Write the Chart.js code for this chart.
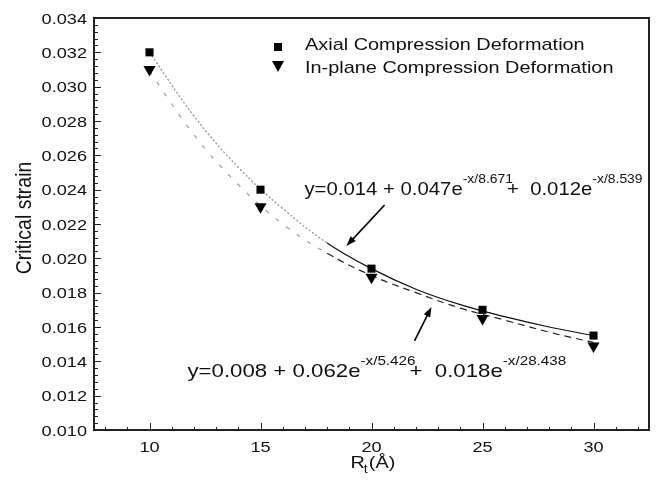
<!DOCTYPE html>
<html>
<head>
<meta charset="utf-8">
<script src="https://cdn.jsdelivr.net/npm/chart.js@4.4.0/dist/chart.umd.min.js"></script>
<style>
  html, body { margin: 0; padding: 0; background: #fff; }
  #wrap { width: 657px; height: 492px; }
</style>
</head>
<body>
<div id="wrap"><canvas id="chart" width="657" height="492"></canvas></div>
<script>
// measured points
const radii = [10, 15, 20, 25, 30];
const axialStrain = [0.0320, 0.0240, 0.0194, 0.0170, 0.0155];
const inplaneStrain = [0.0310, 0.0230, 0.0189, 0.0165, 0.0149];

// fitted curves
const fitX = [10, 12, 14, 16, 18, 20, 22, 24, 26, 28, 30];
const axialFit = [0.0320, 0.0283, 0.0253, 0.0229, 0.0209, 0.0194, 0.0182, 0.0173, 0.0166, 0.0160, 0.0155];
const inplaneFit = [0.0309, 0.0272, 0.0243, 0.0220, 0.0203, 0.0190, 0.0180, 0.0171, 0.0164, 0.0157, 0.0151];

// axis ticks
const xTicks = [10, 15, 20, 25, 30];
const yTicks = [0.010, 0.012, 0.014, 0.016, 0.018, 0.020, 0.022, 0.024, 0.026, 0.028, 0.030, 0.032, 0.034];

const legendLabels = ['Axial Compression Deformation', 'In-plane Compression Deformation'];
const eqAxial = [['y=0.014 + 0.047e'], ['-x/8.671', 'sup'], ['+  0.012e', 'back'], ['-x/8.539', 'sup']];
const eqInplane = [['y=0.008 + 0.062e'], ['-x/5.426', 'sup'], ['+  0.018e', 'back'], ['-x/28.438', 'sup']];

const FONT = '"Liberation Sans", Arial, Helvetica, sans-serif';
const SX = 1.17; // the original text is a bit wide

function toXY(xs, ys) {
    let out = [];
    for (let i = 0; i < xs.length; i++) {
        out.push({x: xs[i], y: ys[i]});
    }
    return out;
}

function wideText(ctx, str, x, y, size, align, baseline, sx) {
    sx = sx || SX;
    ctx.save();
    ctx.font = size + 'px ' + FONT;
    ctx.textAlign = align || 'left';
    ctx.textBaseline = baseline || 'alphabetic';
    ctx.translate(x, y);
    ctx.scale(sx, 1);
    ctx.fillText(str, 0, 0);
    let w = ctx.measureText(str).width * sx;
    ctx.restore();
    return w;
}

function drawEquation(ctx, parts, x, y, sx) {
    let cx = x;
    for (let p of parts) {
        if (p[1] === 'sup') {
            cx += wideText(ctx, p[0], cx, y - 12, 13, 'left', 'alphabetic', sx);
        } else {
            if (p[1] === 'back') cx -= 6;
            cx += wideText(ctx, p[0], cx, y, 19, 'left', 'alphabetic', sx);
        }
    }
}

function drawArrow(ctx, x0, y0, x1, y1) {
    let ang = Math.atan2(y1 - y0, x1 - x0);
    ctx.save();
    ctx.strokeStyle = '#000';
    ctx.fillStyle = '#000';
    ctx.lineWidth = 1.6;
    ctx.beginPath();
    ctx.moveTo(x0, y0);
    ctx.lineTo(x1 - 6 * Math.cos(ang), y1 - 6 * Math.sin(ang));
    ctx.stroke();
    ctx.beginPath();
    ctx.moveTo(x1, y1);
    ctx.lineTo(x1 - 10 * Math.cos(ang) + 3.5 * Math.sin(ang), y1 - 10 * Math.sin(ang) - 3.5 * Math.cos(ang));
    ctx.lineTo(x1 - 10 * Math.cos(ang) - 3.5 * Math.sin(ang), y1 - 10 * Math.sin(ang) + 3.5 * Math.cos(ang));
    ctx.closePath();
    ctx.fill();
    ctx.restore();
}

// frame, inward ticks, labels, legend, equations
const decorations = {
    id: 'decorations',
    afterDraw: function(chart) {
        let ctx = chart.ctx;
        let a = chart.chartArea;
        let xs = chart.scales.x;
        let ys = chart.scales.y;
        ctx.save();
        ctx.fillStyle = '#111';
        ctx.strokeStyle = '#222';

        // minor + major ticks
        ctx.lineWidth = 1;
        ctx.beginPath();
        for (let v = Math.ceil(xs.min); v <= xs.max; v++) {
            let px = Math.round(xs.getPixelForValue(v)) + 0.5;
            let len = (v % 5 === 0) ? 7 : 3;
            ctx.moveTo(px, a.bottom);
            ctx.lineTo(px, a.bottom - len);
        }
        for (let k = 0; k <= 60; k++) {
            let v = ys.min + k * 0.0004;
            let py = Math.round(ys.getPixelForValue(v)) + 0.5;
            let len = (k % 5 === 0) ? 7 : 4;
            ctx.moveTo(a.left, py);
            ctx.lineTo(a.left + len, py);
        }
        ctx.stroke();

        // frame
        ctx.lineWidth = 2;
        ctx.strokeRect(a.left, a.top, a.right - a.left, a.bottom - a.top);

        // tick labels
        xs.ticks.forEach(t => {
            wideText(ctx, String(t.value), xs.getPixelForValue(t.value), a.bottom + 22, 15.5, 'center');
        });
        ys.ticks.forEach(t => {
            wideText(ctx, t.value.toFixed(3), a.left - 7, ys.getPixelForValue(t.value) + 5.5, 15.5, 'right');
        });

        // axis titles
        let mx = (a.left + a.right) / 2 - 21;
        let rw = wideText(ctx, 'R', mx, a.bottom + 38, 17);
        wideText(ctx, 't', mx + rw - 1, a.bottom + 43, 12);
        wideText(ctx, '(\u00c5)', mx + rw + 4, a.bottom + 38, 17);

        ctx.save();
        ctx.translate(31, (a.top + a.bottom) / 2 - 6);
        ctx.rotate(-Math.PI / 2);
        ctx.font = '19.5px ' + FONT;
        ctx.textAlign = 'center';
        ctx.scale(1, SX);
        ctx.fillText('Critical strain', 0, 0);
        ctx.restore();

        // legend
        let lx = a.left + 184;
        ctx.fillStyle = '#000';
        ctx.fillRect(lx - 4, a.top + 25, 8, 8);
        ctx.beginPath();
        ctx.moveTo(lx - 6, a.top + 43);
        ctx.lineTo(lx + 6, a.top + 43);
        ctx.lineTo(lx, a.top + 54);
        ctx.closePath();
        ctx.fill();
        ctx.fillStyle = '#111';
        wideText(ctx, legendLabels[0], a.left + 211, a.top + 32, 17);
        wideText(ctx, legendLabels[1], a.left + 211, a.top + 55, 17);

        // equations and arrows
        drawEquation(ctx, eqAxial, xs.getPixelForValue(16.98), ys.getPixelForValue(0.02369), 1.07);
        drawEquation(ctx, eqInplane, xs.getPixelForValue(11.71), ys.getPixelForValue(0.01309), SX);
        drawArrow(ctx, xs.getPixelForValue(20.59), ys.getPixelForValue(0.02311),
                  xs.getPixelForValue(18.87), ys.getPixelForValue(0.02072));
        drawArrow(ctx, xs.getPixelForValue(21.94), ys.getPixelForValue(0.01519),
                  xs.getPixelForValue(22.70), ys.getPixelForValue(0.01717));
        ctx.restore();
    }
};

Chart.defaults.font.family = FONT;

let ctx = document.getElementById('chart').getContext('2d');
let chart = new Chart(ctx, {
    type: 'scatter',
    data: {
        datasets: [
            {
                label: legendLabels[0],
                data: toXY(radii, axialStrain),
                pointStyle: 'rect',
                pointRadius: 5.7,
                backgroundColor: '#000',
                borderColor: '#000',
                borderWidth: 0,
                showLine: false
            },
            {
                label: legendLabels[1],
                data: toXY(radii, inplaneStrain),
                pointStyle: 'triangle',
                rotation: 180,
                pointRadius: 7,
                backgroundColor: '#000',
                borderColor: '#000',
                borderWidth: 0,
                showLine: false
            },
            {
                label: 'axial fit',
                data: toXY(fitX, axialFit),
                showLine: true,
                pointRadius: 0,
                borderWidth: 1.2,
                borderColor: '#111',
                tension: 0.4,
                segment: {
                    borderColor: c => c.p0.parsed.x < 18 ? '#8c8c8c' : '#111',
                    borderDash: c => c.p0.parsed.x < 18 ? [2, 2] : undefined
                }
            },
            {
                label: 'in-plane fit',
                data: toXY(fitX, inplaneFit),
                showLine: true,
                pointRadius: 0,
                borderWidth: 1.2,
                borderColor: '#222',
                borderDash: [7, 5],
                tension: 0.4,
                segment: {
                    borderColor: c => c.p0.parsed.x < 18 ? '#9a9a9a' : '#222',
                    borderDash: c => c.p0.parsed.x < 18 ? [4, 9] : [7, 5]
                }
            }
        ]
    },
    options: {
        responsive: false,
        animation: false,
        layout: { padding: { top: 18, right: 8, left: 0, bottom: 0 } },
        plugins: {
            legend: { display: false },
            tooltip: { enabled: false }
        },
        scales: {
            x: {
                type: 'linear',
                min: 7.5,
                max: 32.5,
                grid: { display: false, drawTicks: false },
                border: { display: false },
                ticks: { display: false },
                afterBuildTicks: s => { s.ticks = xTicks.map(v => ({value: v})); },
                afterFit: s => { s.height = 62; }
            },
            y: {
                type: 'linear',
                min: 0.010,
                max: 0.034,
                grid: { display: false, drawTicks: false },
                border: { display: false },
                ticks: { display: false },
                afterBuildTicks: s => { s.ticks = yTicks.map(v => ({value: v})); },
                afterFit: s => { s.width = 94; }
            }
        }
    },
    plugins: [decorations]
});
</script>
</body>
</html>
